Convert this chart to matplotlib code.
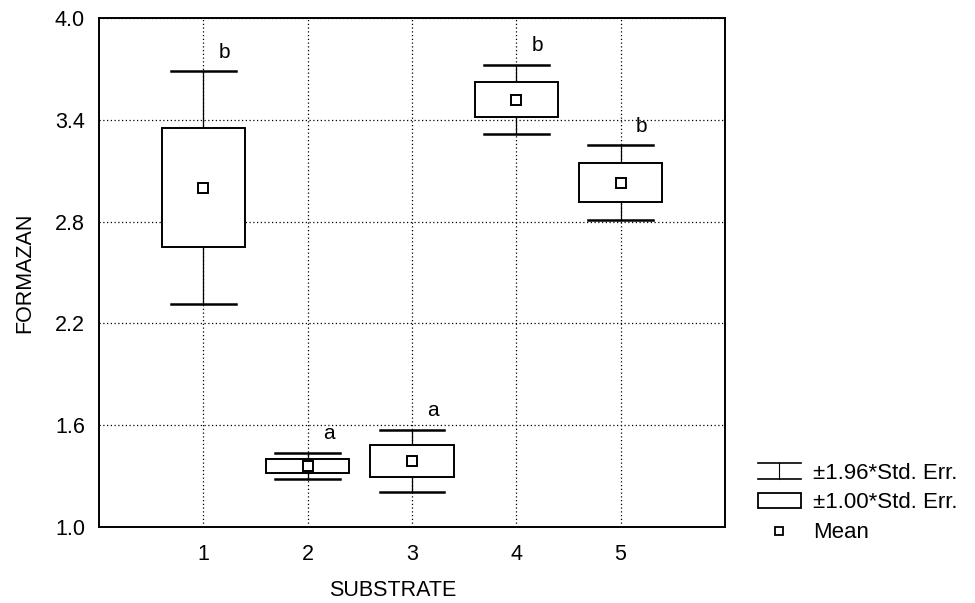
import matplotlib.pyplot as plt
from matplotlib.patches import Rectangle
from matplotlib.lines import Line2D
from matplotlib.legend_handler import HandlerBase

plt.rcParams['font.family'] = ['Liberation Sans', 'DejaVu Sans']

substrates = [1, 2, 3, 4, 5]
means = [3.00, 1.36, 1.39, 3.52, 3.03]
std_err = [0.35, 0.04, 0.094, 0.105, 0.113]
groups = ['b', 'a', 'a', 'b', 'b']
y_ticks = [1.0, 1.6, 2.2, 2.8, 3.4, 4.0]


class HandlerWhisker(HandlerBase):
  def create_artists(self, legend, orig_handle, xdescent, ydescent, width,
                     height, fontsize, trans):
    x0, x1 = -xdescent, -xdescent + width
    xm = (x0 + x1) / 2
    y0, y1 = -ydescent, -ydescent + height
    top = Line2D([x0, x1], [y1, y1], color='black', lw=1.2, transform=trans)
    bot = Line2D([x0, x1], [y0, y0], color='black', lw=1.2, transform=trans)
    mid = Line2D([xm, xm], [y0, y1], color='black', lw=0.8, transform=trans)
    return [top, bot, mid]


def plot_means(ax):
  half_box = 0.40
  half_cap = 0.31
  for x, m, se, g in zip(substrates, means, std_err, groups):
    lo2, hi2 = m - 1.96 * se, m + 1.96 * se
    ax.plot([x, x], [lo2, hi2], color='black', lw=0.9, zorder=2)
    ax.plot([x - half_cap, x + half_cap], [hi2, hi2], color='black', lw=1.8,
            zorder=2)
    ax.plot([x - half_cap, x + half_cap], [lo2, lo2], color='black', lw=1.8,
            zorder=2)
    ax.add_patch(Rectangle((x - half_box, m - se), 2 * half_box, 2 * se,
                           facecolor='white', edgecolor='black', lw=1.4,
                           zorder=3))
    ax.plot(x, m, marker='s', ms=7, mfc='white', mec='black', mew=1.4,
            zorder=4)
    ax.text(x + 0.2, hi2 + 0.11, g, fontsize=15, ha='center', va='center')


fig = plt.figure(figsize=(9.75, 6.03), dpi=100)
ax = fig.add_axes([0.1015, 0.126, 0.642, 0.844])
plot_means(ax)

ax.set_xlim(0, 6)
ax.set_ylim(1.0, 4.0)
ax.set_xticks(substrates)
ax.set_yticks(y_ticks)
ax.set_yticklabels(['%.1f' % v for v in y_ticks])
ax.tick_params(length=0, labelsize=15.5)
ax.tick_params(axis='y', pad=10)
ax.tick_params(axis='x', pad=12)
ax.grid(True, color='black', linestyle=(0, (1, 2)), lw=0.9, zorder=0)
ax.set_axisbelow(True)
for s in ax.spines.values():
  s.set_linewidth(1.4)

ax.set_xlabel('SUBSTRATE', fontsize=15.5)
ax.set_ylabel('FORMAZAN', fontsize=15.5)
ax.xaxis.set_label_coords(0.47, -0.104)
ax.yaxis.set_label_coords(-0.102, 0.5)

whisker = Line2D([], [])
box = Rectangle((0, 0), 1, 1, facecolor='white', edgecolor='black', lw=1.3)
mean_marker = Line2D([], [], marker='s', ms=6, mfc='white', mec='black',
                     mew=1.3, ls='none')
fig.legend([whisker, box, mean_marker],
           ['±1.96*Std. Err.', '±1.00*Std. Err.', 'Mean'],
           handler_map={whisker: HandlerWhisker()},
           loc='upper left', bbox_to_anchor=(0.777, 0.233),
           frameon=False, fontsize=16, handlelength=1.95, handleheight=0.7,
           handletextpad=0.55, labelspacing=0.4, borderpad=0,
           borderaxespad=0)

fig.savefig('out.png', dpi=100)
